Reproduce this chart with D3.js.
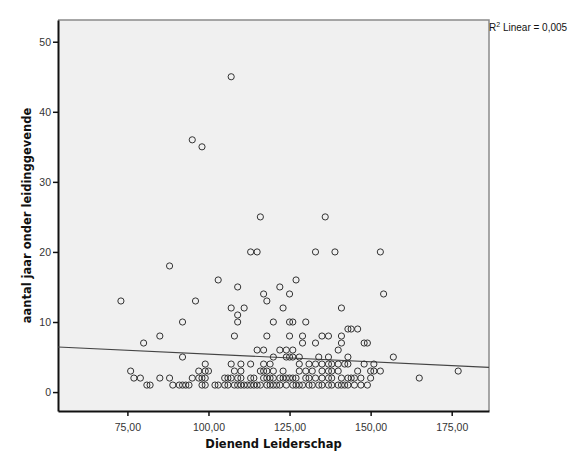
<!DOCTYPE html>
<html>
<head>
<meta charset="utf-8">
<script src="https://cdn.jsdelivr.net/npm/d3@7"></script>
<style>
	body { margin: 0; background: #fff; }
	svg { display: block; }
</style>
</head>
<body>
<div id="chart"></div>
<script>
// DATA, one list of x values per y level
const yLevels = [45, 36, 35, 25, 20, 18, 16, 15, 14, 13, 12, 11, 10, 9, 8, 7, 6, 5, 4, 3, 2, 1];
const xByLevel = [
	[107],
	[95],
	[98],
	[116, 136],
	[113, 115, 133, 139, 153],
	[88],
	[103, 127],
	[109, 122],
	[117, 125, 154],
	[73, 96, 118],
	[107, 111, 123, 141],
	[109],
	[92, 109, 120, 125, 126, 130],
	[143, 144, 146],
	[85, 108, 118, 125, 129, 135, 137, 141],
	[80, 129, 133, 141, 148, 149],
	[115, 117, 122, 124, 126, 140],
	[92, 120, 124, 125, 126, 128, 134, 137, 143, 157],
	[99, 107, 110, 113, 117, 119, 128, 131, 133, 135, 137, 138, 140, 142, 143, 148, 151],
	[76, 97, 99, 100, 108, 110, 116, 117, 118, 120, 123, 128, 130, 132, 135, 137, 138, 140, 146, 150, 151, 153, 177],
	[77, 79, 85, 88, 95, 97, 98, 99, 105, 106, 107, 109, 110, 113, 114, 117, 118, 119, 120, 122, 123, 124, 125, 126, 127, 130, 131, 133, 135, 137, 138, 141, 143, 144, 145, 147, 150, 165],
	[81, 82, 89, 91, 92, 93, 94, 98, 99, 102, 103, 105, 106, 108, 109, 110, 111, 112, 113, 114, 115, 116, 118, 119, 120, 121, 122, 124, 126, 127, 128, 129, 131, 132, 134, 135, 137, 138, 140, 141, 142, 143, 145, 147, 149]
];
const xTicks = [75, 100, 125, 150, 175];
const yTicks = [0, 10, 20, 30, 40, 50];
// fit line (intercept, slope) and its label
const fitLine = [7.6, -0.0218];
const r2Label = "0,005";

const points = [];
yLevels.forEach((y, i) => xByLevel[i].forEach(x => points.push({x: x, y: y})));


// SVG DIMENSIONS
const width = 570;
const height = 452;
const margin = {top: 20, right: 81, bottom: 41, left: 58};

const svg = d3.select("#chart")
	.append("svg")
	.attr("width", width)
	.attr("height", height);

const x = d3.scaleLinear()
	.domain([53.6, 186.5])
	.range([margin.left, width - margin.right]);
const y = d3.scaleLinear()
	.domain([-2.7, 53.1])
	.range([height - margin.bottom, margin.top]);


// plot background + frame
svg.append("rect")
	.attr("x", margin.left)
	.attr("y", margin.top)
	.attr("width", width - margin.left - margin.right)
	.attr("height", height - margin.top - margin.bottom)
	.attr("fill", "#f0f0f0");
svg.append("path")
	.attr("d", `M${margin.left},${margin.top}H${width - margin.right}V${height - margin.bottom}`)
	.attr("fill", "none")
	.attr("stroke", "#8a8a8a")
	.attr("stroke-width", 1.5);


// AXES
const tickFont = "'Liberation Sans', Arial, sans-serif";
const xAxis = svg.append("g")
	.attr("transform", `translate(0,${height - margin.bottom})`)
	.call(d3.axisBottom(x)
		.tickValues(xTicks)
		.tickSize(5)
		.tickSizeOuter(0)
		.tickFormat(d => d3.format(".2f")(d).replace(".", ",")));
const yAxis = svg.append("g")
	.attr("transform", `translate(${margin.left},0)`)
	.call(d3.axisLeft(y)
		.tickValues(yTicks)
		.tickSize(5)
		.tickSizeOuter(0));

[xAxis, yAxis].forEach(ax => {
	ax.select(".domain").attr("stroke", "#111").attr("stroke-width", 2);
	ax.selectAll(".tick line").attr("stroke", "#111").attr("stroke-width", 1.5);
	ax.selectAll(".tick text")
		.attr("fill", "#333")
		.style("font-family", tickFont)
		.style("font-size", "10.5px");
});
xAxis.selectAll(".tick text").attr("dy", "1.1em");
yAxis.selectAll(".tick text").attr("x", -7);


// fit line
const [x0, x1] = x.domain();
svg.append("line")
	.attr("x1", x(x0))
	.attr("y1", y(fitLine[0] + fitLine[1] * x0))
	.attr("x2", x(x1))
	.attr("y2", y(fitLine[0] + fitLine[1] * x1))
	.attr("stroke", "#444")
	.attr("stroke-width", 1.2);


// points
svg.append("g")
	.selectAll("circle")
	.data(points)
	.enter()
	.append("circle")
		.attr("cx", d => x(d.x))
		.attr("cy", d => y(d.y))
		.attr("r", 3.1)
		.attr("fill", "none")
		.attr("stroke", "#333")
		.attr("stroke-width", 1);


// TITLES
svg.append("text")
	.attr("x", (margin.left + width - margin.right) / 2)
	.attr("y", 448)
	.attr("text-anchor", "middle")
	.style("font-family", "'DejaVu Sans', sans-serif")
	.style("font-weight", "bold")
	.style("font-size", "11.5px")
	.attr("fill", "#111")
	.text("Dienend Leiderschap");

svg.append("text")
	.attr("transform", `translate(31,${(margin.top + height - margin.bottom) / 2}) rotate(-90)`)
	.attr("text-anchor", "middle")
	.style("font-family", "'DejaVu Sans', sans-serif")
	.style("font-weight", "bold")
	.style("font-size", "11.5px")
	.attr("fill", "#111")
	.text("aantal jaar onder leidinggevende");

// R2 label
const r2 = svg.append("text")
	.attr("x", width - margin.right + 0)
	.attr("y", 31)
	.style("font-family", tickFont)
	.style("font-size", "10px")
	.attr("fill", "#111");
r2.append("tspan").text("R");
r2.append("tspan").attr("dy", -4).style("font-size", "7px").text("2");
r2.append("tspan").attr("dy", 4).text(" Linear = " + r2Label);
</script>
</body>
</html>
